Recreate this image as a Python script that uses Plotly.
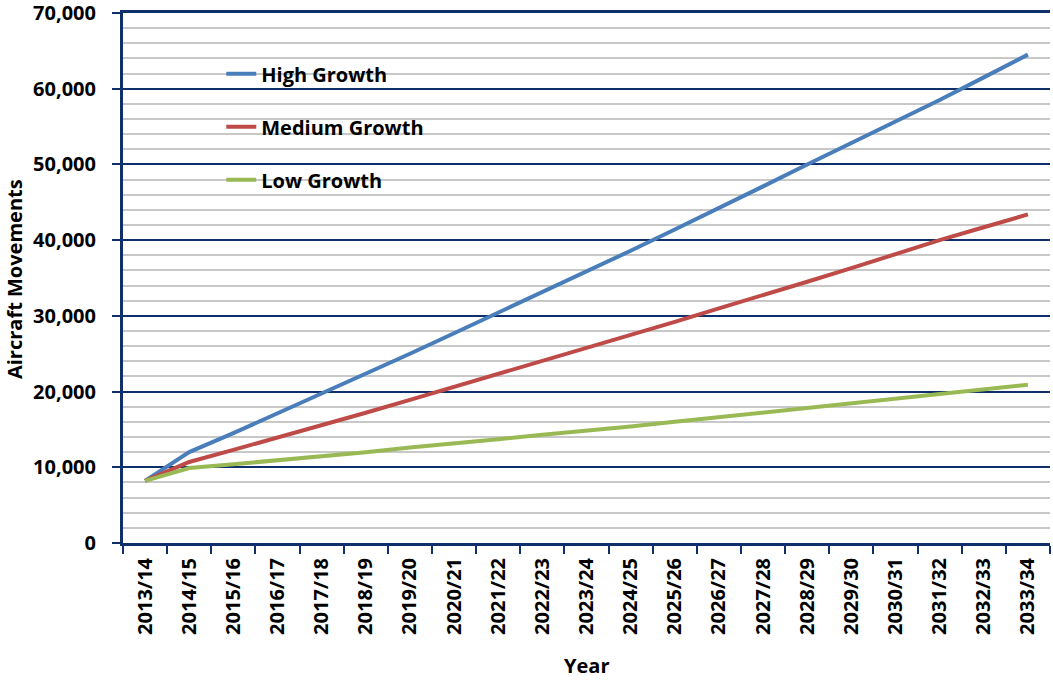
import plotly.graph_objects as go

years = ["2013/14", "2014/15", "2015/16", "2016/17", "2017/18", "2018/19", "2019/20",
         "2020/21", "2021/22", "2022/23", "2023/24", "2024/25", "2025/26", "2026/27",
         "2027/28", "2028/29", "2029/30", "2030/31", "2031/32", "2032/33", "2033/34"]

high_growth = [8200, 12000, 14500, 17100, 19700, 22400, 25000, 27700, 30400, 33100, 35800,
               38600, 41400, 44200, 47100, 50000, 52800, 55600, 58500, 61500, 64500]
medium_growth = [8200, 10700, 12300, 13900, 15500, 17200, 18900, 20600, 22300, 24000, 25700,
                 27500, 29200, 31000, 32700, 34500, 36300, 38200, 40000, 41700, 43400]
low_growth = [8200, 9900, 10400, 10900, 11500, 12000, 12600, 13100, 13700, 14300, 14800,
              15400, 16000, 16600, 17200, 17800, 18400, 19000, 19700, 20300, 20900]

y_ticks = [0, 10000, 20000, 30000, 40000, 50000, 60000, 70000]

series = [("High Growth", high_growth, "#4A7EBB"),
          ("Medium Growth", medium_growth, "#BE4B48"),
          ("Low Growth", low_growth, "#98B954")]

NAVY = "#10306B"
FONT = "Open Sans"

fig = go.Figure()
for i, (name, vals, col) in enumerate(series):
    fig.add_trace(go.Scatter(x=years, y=vals, name=name, mode="lines",
                             legendgroup=f"g{i}",
                             line=dict(color=col, width=4)))

fig.update_layout(
    width=1053, height=682,
    margin=dict(l=123, r=3, t=13, b=139, autoexpand=False),
    paper_bgcolor="white", plot_bgcolor="white",
    font=dict(family=FONT, size=20, color="black", weight="bold"),
    showlegend=True,
    legend=dict(x=0.106, y=0.922, xanchor="left", yanchor="top",
                bgcolor="rgba(0,0,0,0)", borderwidth=0,
                traceorder="grouped", tracegroupgap=24,
                font=dict(family=FONT, size=20, color="black", weight="bold")),
    xaxis=dict(type="category", range=[-0.5, len(years) - 0.5],
               tickson="boundaries", ticks="outside", ticklen=8,
               tickwidth=2, tickcolor=NAVY, showline=True, linecolor=NAVY, linewidth=3,
               mirror=True,
               showgrid=False, tickangle=-90, automargin=False,
               tickfont=dict(family=FONT, size=20, color="black", weight="bold"),
               ticklabelstandoff=4),
    yaxis=dict(range=[0, 70000], tickmode="array", tickvals=y_ticks,
               tickformat=",", ticks="outside", ticklen=8,
               tickwidth=2, tickcolor=NAVY, showline=True, linecolor=NAVY, linewidth=3,
               showgrid=True, gridcolor=NAVY, gridwidth=2, zeroline=False,
               automargin=False, ticklabelstandoff=12, ticklabeloverflow="allow",
               tickfont=dict(family=FONT, size=20, color="black", weight="bold"),
               minor=dict(dtick=2000, showgrid=True, gridcolor="#C8C8C8", gridwidth=1.5,
                          ticks="")),
    shapes=[dict(type="rect", xref="paper", yref="paper", x0=0.0636, x1=0.356,
                 y0=0.645, y1=0.937, fillcolor="white", line=dict(width=0),
                 layer="between")],
    annotations=[
        dict(text="Aircraft Movements", xref="paper", yref="paper", x=-0.1176, y=0.498,
             textangle=-90, showarrow=False, xanchor="center", yanchor="middle",
             font=dict(family=FONT, size=20, color="black", weight="bold")),
        dict(text="Year", xref="paper", yref="paper", x=0.5, y=-0.231,
             showarrow=False, xanchor="center", yanchor="middle",
             font=dict(family=FONT, size=20, color="black", weight="bold")),
    ],
)

fig.write_html("out.html")
